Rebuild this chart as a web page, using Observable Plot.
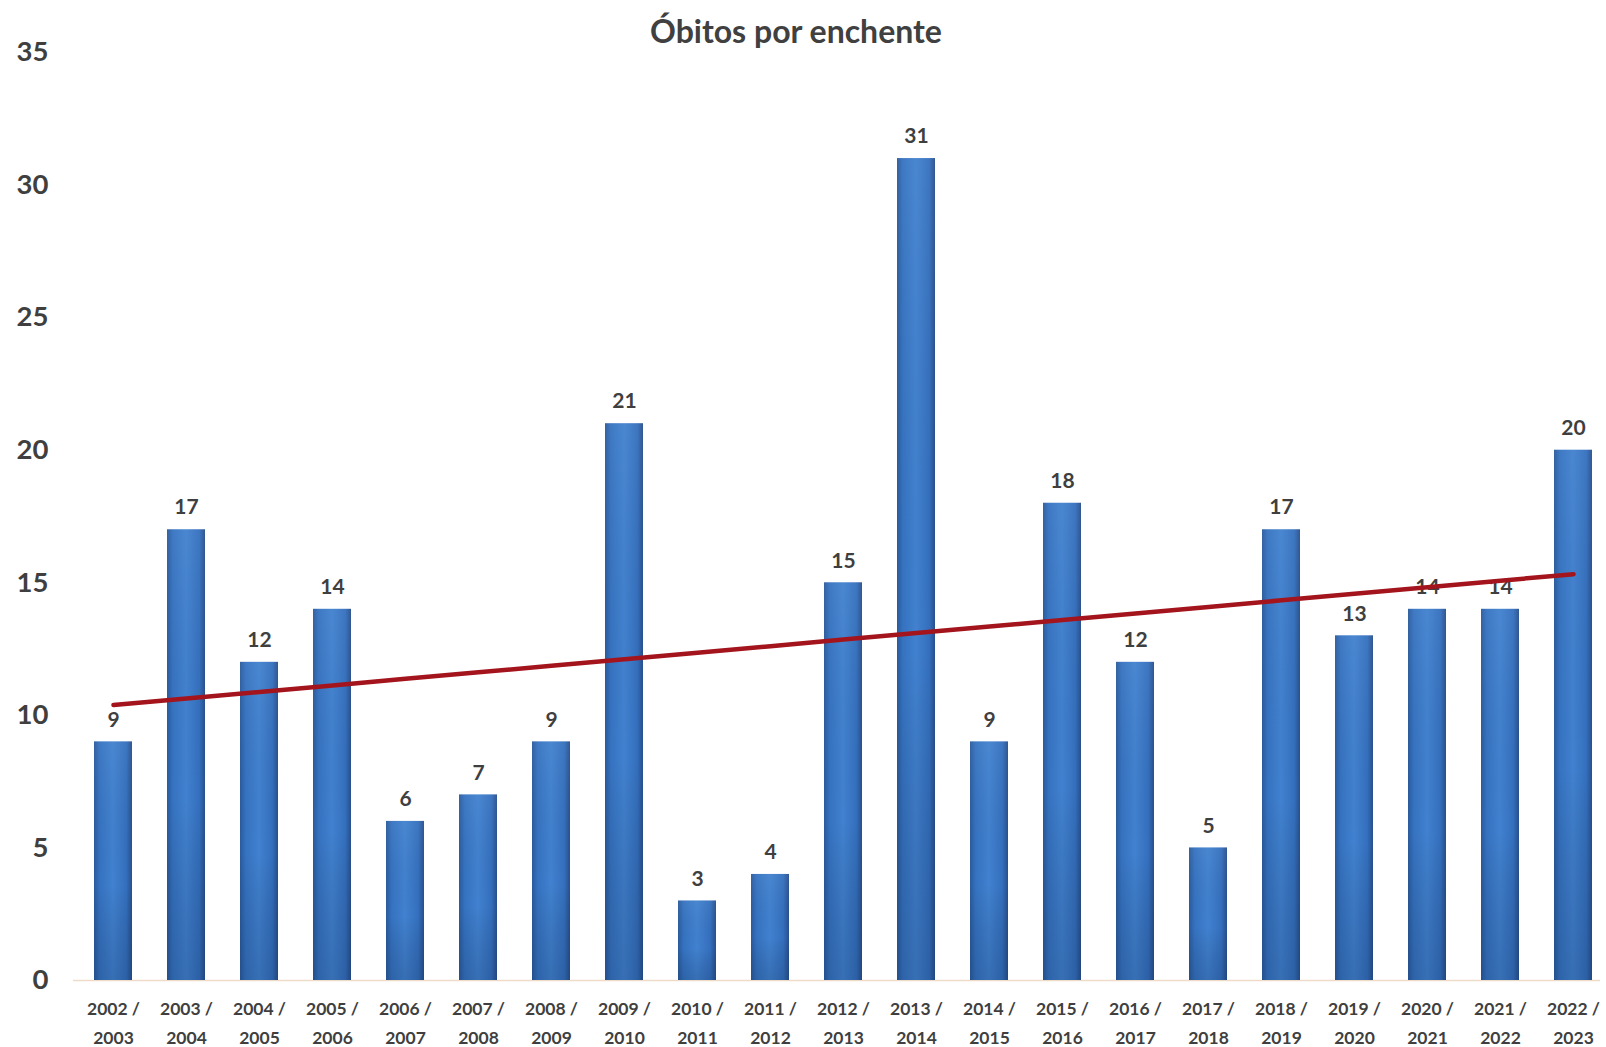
<!DOCTYPE html>
<html>
<head>
<meta charset="utf-8">
<script src="https://cdn.jsdelivr.net/npm/d3@7"></script>
<script src="https://cdn.jsdelivr.net/npm/@observablehq/plot@0.6"></script>
<style>
  html, body { margin: 0; padding: 0; background: #fff; overflow: hidden; }
  #title { height: 30px; font: bold 32px Lato, sans-serif; line-height: 62px; text-align: center; color: #404040; width: 1592px; white-space: nowrap; }
  #chart svg { display: block; }
</style>
</head>
<body>
<div id="title">Óbitos por enchente</div>
<div id="chart"></div>
<script>
const seasons = ["2002 / 2003","2003 / 2004","2004 / 2005","2005 / 2006","2006 / 2007","2007 / 2008","2008 / 2009","2009 / 2010","2010 / 2011","2011 / 2012","2012 / 2013","2013 / 2014","2014 / 2015","2015 / 2016","2016 / 2017","2017 / 2018","2018 / 2019","2019 / 2020","2020 / 2021","2021 / 2022","2022 / 2023"];
const deaths = [9,17,12,14,6,7,9,21,3,4,15,31,9,18,12,5,17,13,14,14,20];
const yTicks = [0,5,10,15,20,25,30,35];

const data = seasons.map((s, i) => ({season: s, value: deaths[i], i}));
// linear trend line (least squares over the season index)
const mx = d3.mean(data, d => d.i), my = d3.mean(deaths);
const slope = d3.sum(data, d => (d.i - mx) * (d.value - my)) / d3.sum(data, d => (d.i - mx) ** 2);
const trend = data.map(d => ({season: d.season, value: my + slope * (d.i - mx)}));

const plot = Plot.plot({
  width: 1606,
  height: 1017,
  marginTop: 22,
  marginBottom: 67,
  marginLeft: 73,
  marginRight: 6,
  style: {fontFamily: "Lato, sans-serif", color: "#404040", background: "#fff"},
  x: {domain: seasons, paddingInner: 0.473, paddingOuter: 0.181, align: 0.745, label: null},
  y: {domain: [0, 35], ticks: yTicks, label: null},
  marks: [
    Plot.axisY({ticks: yTicks, tickSize: 0, tickPadding: 25, textAnchor: "end", fontSize: 27.5, fontWeight: "bold", fill: "#3f3f3f", label: null}),
    Plot.axisX({tickSize: 0, tickPadding: 13.5, fontSize: 17.5, fontWeight: "bold", fill: "#3f3f3f", lineHeight: 1.657, tickFormat: d => d.replace(" / ", " /\n"), label: null}),
    Plot.ruleY([0], {stroke: "#efdcc8", strokeWidth: 1.5}),
    Plot.barY(data, {x: "season", y: "value", fill: "url(#barGrad)"}),
    Plot.barY(data, {x: "season", y: "value", fill: "url(#shadeGrad)"}),
    Plot.tickY(data, {x: "season", y: "value", stroke: "url(#capGrad)", strokeWidth: 5, dy: 3, inset: 1}),
    Plot.text(data, {x: "season", y: "value", text: d => String(d.value), dy: -22, fontSize: 21, fontWeight: "bold", fill: "#3f3f3f"}),
    Plot.line(trend, {x: "season", y: "value", stroke: "#a3141c", strokeWidth: 4.5})
  ]
});

const defs = d3.create("svg:defs");
const g = defs.append("linearGradient").attr("id", "barGrad").attr("x1", "0").attr("x2", "1").attr("y1", "0").attr("y2", "0");
g.append("stop").attr("offset", "0").attr("stop-color", "#2a5a9c");
g.append("stop").attr("offset", "0.15").attr("stop-color", "#3572c0");
g.append("stop").attr("offset", "0.5").attr("stop-color", "#4181cf");
g.append("stop").attr("offset", "0.85").attr("stop-color", "#346fbd");
g.append("stop").attr("offset", "1").attr("stop-color", "#284f8c");
const s = defs.append("linearGradient").attr("id", "shadeGrad").attr("x1", "0").attr("x2", "0").attr("y1", "0").attr("y2", "1");
s.append("stop").attr("offset", "0").attr("stop-color", "#ffffff").attr("stop-opacity", "0.05");
s.append("stop").attr("offset", "0.6").attr("stop-color", "#000000").attr("stop-opacity", "0");
s.append("stop").attr("offset", "1").attr("stop-color", "#0a1f40").attr("stop-opacity", "0.18");
const c = defs.append("linearGradient").attr("id", "capGrad").attr("x1", "0").attr("x2", "1").attr("y1", "0").attr("y2", "0");
c.append("stop").attr("offset", "0").attr("stop-color", "#5a92d4");
c.append("stop").attr("offset", "0.5").attr("stop-color", "#a4c8ef");
c.append("stop").attr("offset", "1").attr("stop-color", "#5a92d4");
plot.insertBefore(defs.node(), plot.firstChild);

document.getElementById("chart").appendChild(plot);
</script>
</body>
</html>
